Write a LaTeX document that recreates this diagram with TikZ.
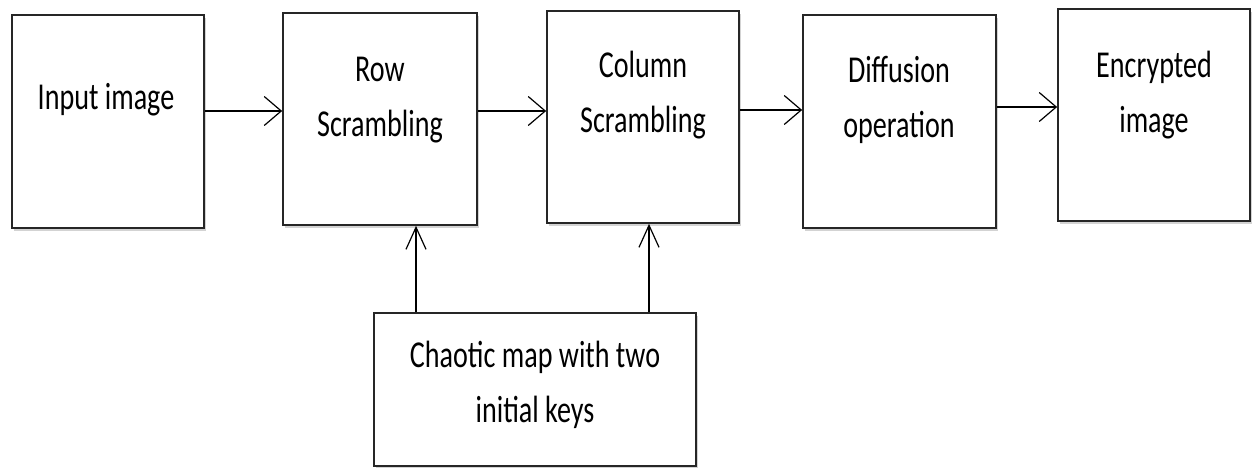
\documentclass[tikz,border=0pt]{standalone}
\usepackage{fontspec}
\setmainfont[FakeStretch=0.74]{Carlito}
\usetikzlibrary{arrows.meta,shadows}

\begin{document}
\begin{tikzpicture}[x=1pt, y=-1pt,
        block/.style={rectangle, draw=black!85, line width=1.7pt, fill=white, inner sep=0pt,
            drop shadow={shadow xshift=2pt, shadow yshift=-3pt, opacity=0.35}},
        lbl/.style={align=center, inner sep=0pt, font=\fontsize{38}{55}\selectfont},
        harrow/.style={line width=1.2pt, -{Straight Barb[length=17pt, width=29pt]}},
        varrow/.style={line width=1.2pt, -{Straight Barb[length=22pt, width=20pt]}}]
        \useasboundingbox (0,0) rectangle (1253,468);

        % blocks
        \node[block, minimum width=192pt, minimum height=213pt] (inp) at (108, 121.5) {};
        \node[block, minimum width=194pt, minimum height=212pt] (row) at (380, 119) {};
        \node[block, minimum width=192pt, minimum height=212pt] (col) at (643, 117) {};
        \node[block, minimum width=193pt, minimum height=213pt] (dif) at (899.5, 121.5) {};
        \node[block, minimum width=192pt, minimum height=212pt] (enc) at (1154, 115) {};
        \node[block, minimum width=322pt, minimum height=153pt] (chaos) at (535, 389.5) {};

        % texts (base = last line)
        \node[lbl, anchor=base] (inptxt) at (106, 110) {Input image};
        \node[lbl, anchor=base] (rowtxt) at (380, 137) {Row\\Scrambling};
        \node[lbl, anchor=base] (coltxt) at (643, 133) {Column\\Scrambling};
        \node[lbl, anchor=base] (diftxt) at (899, 138) {Diffusion\\operation};
        \node[lbl, anchor=base] (enctxt) at (1154, 133) {Encrypted\\image};
        \node[lbl, anchor=base] (chaostxt) at (535, 422) {Chaotic map with two\\initial keys};

        % connectors
        \coordinate (a1) at (0, 111);
        \coordinate (a2) at (0, 111);
        \coordinate (a3) at (0, 110);
        \coordinate (a4) at (0, 107);
        \coordinate (k1) at (416, 0);
        \coordinate (k2) at (649, 0);

        \draw[harrow] (inp.east |- a1) -- (row.west |- a1);
        \draw[harrow] (row.east |- a2) -- (col.west |- a2);
        \draw[harrow] (col.east |- a3) -- (dif.west |- a3);
        \draw[harrow] (dif.east |- a4) -- (enc.west |- a4);

        \draw[varrow] (chaos.north -| k1) -- (row.south -| k1);
        \draw[varrow] (chaos.north -| k2) -- (col.south -| k2);
    \end{tikzpicture}
\end{document}
